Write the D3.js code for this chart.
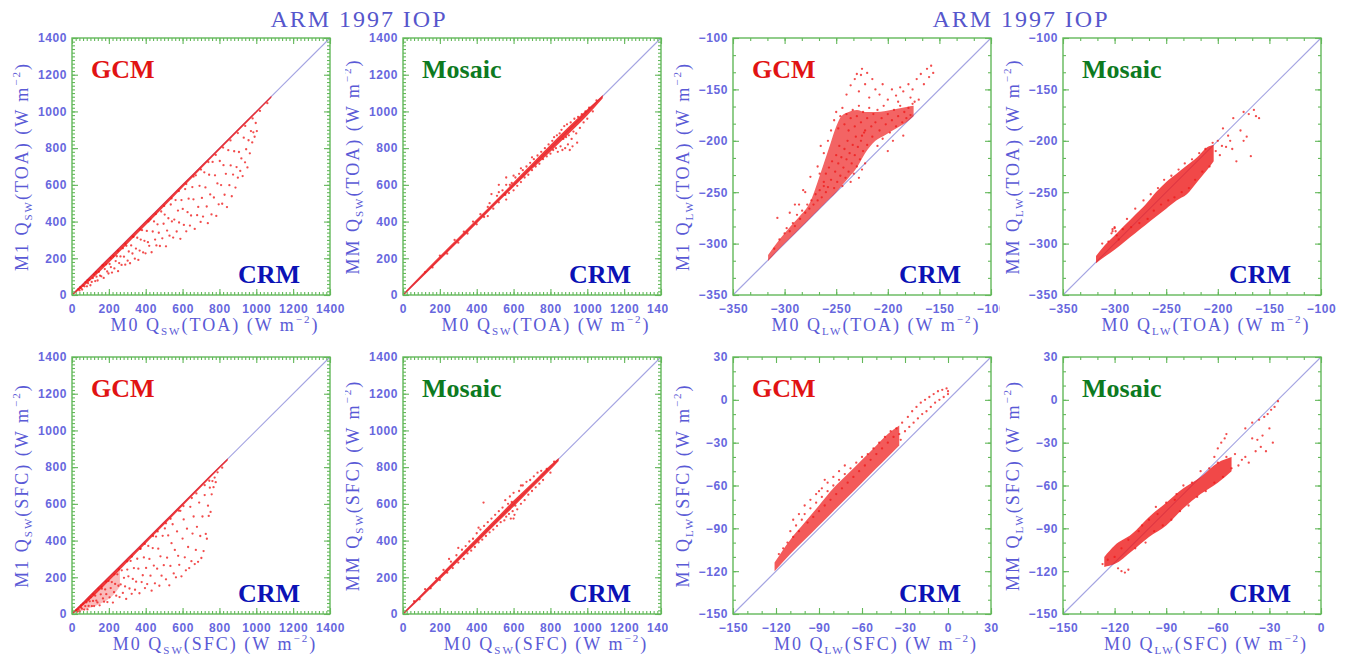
<!DOCTYPE html>
<html>
<head>
<meta charset="utf-8">
<script src="https://cdn.jsdelivr.net/npm/d3@7"></script>
<style>
  html, body { margin: 0; padding: 0; background: #ffffff; }
  svg { display: block; }
  .ax .tick text { font-family: "Liberation Sans", Arial, sans-serif; font-weight: bold; font-size: 12px; letter-spacing: 0.6px; fill: #6767de; }
  .lbl { font-family: "Liberation Serif", "Times New Roman", serif; font-size: 18px; fill: #5a5ad6; letter-spacing: 2px; }
  .title { font-family: "Liberation Serif", "Times New Roman", serif; font-size: 24px; fill: #5656cc; }
  .tag { font-family: "Liberation Serif", "Times New Roman", serif; font-weight: bold; font-size: 26px; }
</style>
</head>
<body>
<svg id="chart" width="1348" height="664"></svg>
<script>
// ---- axis tick values ----
const swTicks = [0, 200, 400, 600, 800, 1000, 1200, 1400];
const lwToaTicks = [-350, -300, -250, -200, -150, -100];
const lwSfcTicks = [-150, -120, -90, -60, -30, 0, 30];
const lwSfcTicksX = [-150, -120, -90, -60, -30, 0];

// ---- dense cores: [x, yLow, yHigh] ----
const gcmSwToaBand = [[0,-4,6],[60,45,64],[120,98,124],[200,176,204],[300,278,304],[400,380,404],[500,482,504],[600,585,604],[700,688,704],[800,790,804],[900,890,904],[1000,992,1004],[1082,1074,1086]];
const mosSwToaBand = [[0,-6,6],[100,92,110],[200,190,212],[300,290,312],[400,390,412],[500,490,512],[600,588,614],[700,686,716],[800,780,818],[900,878,918],[1000,978,1012],[1084,1072,1090]];
const gcmLwToaBand = [[-316,-317,-311],[-305,-305,-296],[-295,-295,-284],[-285,-285,-273],[-275,-275,-259],[-268,-268,-240],[-262,-262,-222],[-256,-256,-204],[-250,-250,-186],[-245,-244,-176],[-238,-236,-172],[-230,-226,-170],[-222,-212,-172],[-212,-200,-172],[-202,-194,-171],[-192,-188,-169],[-182,-182,-167],[-175,-176,-166]];
const mosLwToaBand = [[-318,-319,-312],[-310,-313,-302],[-300,-306,-292],[-290,-298,-282],[-280,-290,-272],[-270,-282,-262],[-260,-274,-250],[-250,-266,-240],[-240,-258,-232],[-230,-252,-224],[-220,-240,-216],[-210,-228,-206],[-204,-220,-204]];
const gcmSwSfcBand = [[0,-4,8],[60,46,66],[120,100,126],[200,180,205],[300,282,305],[400,384,405],[500,486,505],[600,588,605],[700,690,705],[800,792,805],[845,836,848]];
const gcmSwSfcHaze = [[20,4,20],[80,28,76],[150,55,142],[220,100,208],[260,150,250]];
const mosSwSfcBand = [[0,-6,6],[100,90,108],[200,188,210],[300,288,312],[400,386,414],[500,486,516],[600,584,618],[700,686,714],[800,786,812],[845,834,850]];
const gcmLwSfcBand = [[-121,-120,-114],[-110,-108,-98],[-100,-98,-86],[-90,-88,-74],[-80,-78,-62],[-70,-68,-52],[-60,-58,-42],[-50,-48,-32],[-42,-40,-24],[-34,-32,-18]];
const mosLwSfcBand = [[-126,-117,-110],[-120,-115,-102],[-110,-106,-94],[-100,-96,-82],[-90,-88,-72],[-80,-76,-62],[-70,-66,-54],[-60,-58,-44],[-52,-50,-40]];

// ---- scattered samples: [x, y] ----
const gcmSwToaPts = [[35,32],[41,25],[48,37],[55,30],[61,51],[68,47],[74,70],[81,47],[87,64],[94,83],[100,53],[107,71],[113,92],[120,112],[126,76],[133,100],[139,79],[146,126],[152,106],[159,102],[165,160],[172,93],[178,141],[185,167],[191,128],[198,117],[204,169],[211,152],[217,122],[224,211],[230,145],[237,185],[243,211],[250,130],[256,174],[263,210],[269,164],[276,254],[282,209],[289,165],
[295,268],[302,187],[308,237],[315,173],[321,270],[328,226],[334,317],[341,198],[347,253],[354,312],[360,191],[367,242],[373,302],[380,353],[386,232],[393,295],[399,227],[406,349],[412,288],[419,268],[425,412],[432,233],[438,346],[445,401],[451,302],[458,270],[464,385],[471,339],[477,267],[484,455],[490,309],[497,388],[503,438],[510,265],[516,351],[523,418],[529,323],[536,493],[542,401],[549,313],
[555,411],[562,517],[568,346],[575,460],[581,395],[588,306],[594,517],[601,469],[607,382],[614,577],[620,347],[627,451],[633,525],[640,378],[646,433],[653,588],[659,521],[666,360],[672,652],[679,435],[685,480],[692,595],[698,398],[705,529],[711,427],[718,668],[724,586],[731,482],[737,391],[744,655],[750,548],[757,439],[763,725],[770,531],[776,652],[783,431],[789,608],[796,494],[802,730],[809,599],[815,497],[822,707],[828,546],[835,660],[841,479],[848,789],[854,598],[861,706],[867,538],[874,656],[880,783],[887,585],[893,697],[900,639],[906,779],[913,676],[919,744],[926,648],[932,857],[939,723],[945,794],[952,695],[958,843],[965,772],[971,893],[978,831],[984,886],[991,862],[997,937],[1003,893],
[45,43],[130,124],[210,201],[290,279],[370,357],[455,441],[540,526],[620,604],[700,683],[780,763],[860,842],[940,921],[1020,1003],[85,81],[170,163],[250,241],[330,318],[415,401],[500,485],[580,566],[660,645],[740,724],[820,803],[900,882],[980,962],[1060,1045]];

const mosSwToaPts = [[120,125],[160,150],[200,215],[240,225],[280,300],[300,285],[330,345],[350,335],[380,400],[400,385],[420,440],[440,425],[460,480],[470,500],[490,470],[510,540],[520,505],[540,570],[555,545],[560,520],[580,600],[590,610],[600,570],[610,640],[620,595],[630,660],[640,615],[650,680],[660,640],[670,700],[680,655],[690,720],[700,680],[710,740],[720,700],[730,760],[740,715],[750,780],[760,740],[770,800],[780,755],[790,820],[800,770],[810,840],[815,790],[820,860],[830,800],[835,870],[840,780],[850,880],[855,810],[860,900],[865,790],[870,850],[875,920],[880,800],[885,860],[890,930],[895,820],[900,870],[905,790],[910,940],[915,850],[920,810],[925,890],[930,960],[940,880],[945,830],[950,970],[960,910],[970,985],[980,940],[990,1000],[1000,960],[1010,1020],[1030,1000],[1050,1060],[460,430],[520,560],[575,555],[640,690],[600,650],[560,600],[700,750],[520,600],[560,640],[480,550]];

const gcmLwToaPts = [[-310,-305],[-305,-296],[-300,-290],[-298,-285],[-295,-288],[-292,-280],[-290,-283],[-288,-272],[-285,-276],[-283,-268],[-280,-270],[-278,-262],[-276,-266],[-274,-258],[-272,-262],[-270,-252],[-268,-258],[-266,-248],[-264,-255],[-262,-244],[-260,-250],[-307,-275],[-295,-270],[-286,-262],[-280,-250],
[-262,-240],[-260,-232],[-258,-245],[-257,-226],[-255,-238],[-254,-220],[-252,-246],[-251,-230],[-250,-214],[-249,-240],[-248,-222],[-247,-205],[-246,-234],[-245,-216],[-244,-244],[-243,-226],[-242,-208],[-241,-236],[-240,-218],[-239,-200],[-238,-230],[-237,-212],[-236,-240],[-235,-222],[-234,-204],[-233,-232],[-232,-214],[-231,-196],[-230,-225],[-229,-206],[-228,-236],[-227,-218],[-226,-200],[-225,-228],[-224,-210],[-223,-192],[-222,-222],
[-252,-180],[-250,-172],[-248,-188],[-246,-176],[-244,-168],[-242,-184],[-240,-174],[-238,-190],[-236,-178],[-234,-170],[-232,-186],[-230,-176],[-228,-166],[-226,-182],[-224,-172],[-222,-190],[-220,-178],[-218,-168],[-216,-186],[-214,-174],[-212,-182],[-210,-170],[-208,-190],[-206,-178],[-204,-166],[-202,-184],[-200,-174],[-198,-192],[-196,-180],[-194,-170],[-192,-186],[-190,-176],[-188,-166],[-186,-182],[-184,-172],[-182,-178],[-180,-168],[-178,-175],[-176,-164],[-174,-162],[-185,-195],[-195,-200],[-205,-198],[-215,-196],[-225,-195],[-210,-205],[-200,-210],[-220,-204],
[-232,-140],[-230,-135],[-228,-152],[-225,-130],[-222,-145],[-218,-158],[-215,-140],[-212,-150],[-208,-155],[-205,-145],[-200,-160],[-196,-150],[-192,-156],[-188,-148],[-185,-152],[-180,-145],[-176,-150],[-172,-140],[-168,-135],[-165,-145],[-162,-130],[-160,-138],[-158,-127],[-156,-134],[-170,-160],[-178,-158],[-190,-162],[-240,-155],[-236,-146],[-226,-136],[-220,-134],
[-275,-235],[-282,-248],[-268,-225],[-265,-205],[-290,-262],[-258,-200],[-262,-212],[-255,-190],[-266,-232]];

const mosLwToaPts = [[-312,-300],[-306,-298],[-302,-288],[-300,-285],[-298,-292],[-296,-296],[-292,-286],[-288,-276],[-284,-284],[-280,-266],[-276,-280],[-272,-258],[-268,-276],[-265,-252],[-262,-268],[-258,-246],[-255,-262],[-252,-238],[-248,-258],[-245,-234],[-242,-255],[-238,-228],[-235,-250],[-232,-222],[-228,-246],[-225,-218],[-222,-238],[-218,-212],[-215,-230],[-212,-208],[-208,-225],[-205,-202],[-202,-210],[-200,-200],[-198,-214],[-196,-205],[-192,-206],[-190,-195],[-188,-200],[-185,-178],[-182,-220],[-178,-190],[-175,-172],[-172,-196],[-170,-174],[-168,-215],[-165,-170],[-163,-176],[-160,-178],[-195,-188],[-186,-208],[-175,-200],
[-303,-290],[-302,-286],[-300,-284],[-299,-288]];

const gcmSwSfcPts = [[24,21],[30,13],[36,24],[42,14],[48,36],[54,29],[60,56],[66,24],[72,43],[78,64],[84,25],[90,44],[96,69],[102,91],[108,43],[114,71],[120,43],[126,100],[132,73],[138,63],[144,138],[150,47],[156,107],[162,138],[168,85],[174,67],[180,134],[186,108],[192,65],[198,180],[204,91],[210,141],[216,174],[222,62],[228,119],[234,164],[240,100],[246,216],[252,154],[258,92],
[264,161],[270,238],[276,115],[282,197],[288,150],[294,82],[300,242],[306,205],[312,139],[318,289],[324,110],[330,191],[336,250],[342,132],[348,176],[354,301],[360,247],[366,113],[372,355],[378,174],[384,211],[390,308],[396,141],[402,251],[408,163],[414,371],[420,300],[426,209],[432,127],[438,359],[444,264],[450,167],[456,422],[462,247],[468,356],[474,154],[480,314],[486,209],[492,426],
[498,266],[504,466],[510,189],[516,307],[522,428],[528,156],[534,262],[540,386],[546,489],[552,221],[558,349],[564,200],[570,450],[576,317],[582,268],[588,562],[594,205],[600,411],[606,515],[612,309],[618,238],[624,465],[630,365],[636,250],[642,584],[648,288],[654,438],[660,531],[666,272],[672,349],[678,475],[684,284],[690,607],[696,425],[702,305],
[708,531],[714,343],[720,648],[726,436],[732,410],[738,590],[742,534],[748,688],[752,556],[758,652],[762,724],[768,691],[774,743],[780,718],
[50,47],[115,108],[185,176],[255,244],[325,313],[395,382],[465,450],[535,519],[605,588],[675,657],[745,726],[815,797],[90,80],[160,148],[230,216],[300,287],[370,356],[440,425],[510,494],[580,563],[650,632],[720,702],[790,772]];

const mosSwSfcPts = [[60,70],[90,80],[120,135],[150,140],[180,195],[200,185],[220,240],[240,225],[260,285],[270,250],[290,320],[300,280],[320,350],[330,300],[340,370],[350,330],[360,395],[370,345],[380,410],[390,365],[400,440],[410,390],[420,460],[430,405],[440,480],[450,425],[460,500],[470,445],[480,520],[490,460],[500,540],[510,480],[520,560],[530,500],[540,580],[550,510],[555,620],[560,530],[570,600],[575,545],[580,640],[585,520],[590,610],[595,560],[600,660],[605,540],[610,590],[620,570],[630,670],[640,600],[650,700],[660,620],[670,720],[680,650],[690,730],[700,670],[710,750],[720,690],[730,770],[740,710],[750,780],[760,730],[780,790],[800,770],[820,830],[640,700],[600,520],[437,607],[410,470],[300,360],[250,300]];

const gcmLwSfcPts = [[-118,-108],[-115,-104],[-112,-100],[-110,-92],[-108,-96],[-106,-88],[-104,-92],[-102,-84],[-100,-80],[-98,-86],[-96,-76],[-94,-82],[-92,-72],[-90,-78],[-88,-68],[-86,-74],[-84,-64],[-82,-70],[-80,-60],[-78,-66],[-76,-56],[-74,-62],[-72,-52],[-70,-58],[-68,-48],[-66,-54],[-64,-44],[-62,-50],[-60,-40],[-58,-46],[-56,-38],[-54,-42],[-52,-34],[-50,-38],[-48,-30],[-46,-34],[-44,-26],[-42,-30],[-40,-22],[-38,-26],[-36,-20],[-34,-24],[-33,-28],[-108,-84],[-104,-80],[-100,-74],[-96,-70],[-92,-66],[-88,-62],[-84,-58],[-80,-54],[-76,-50],[-72,-46],[-90,-64],[-86,-56],
[-30,-22],[-27,-19],[-24,-16],[-21,-13],[-18,-10],[-15,-8],[-12,-5],[-9,-2],[-6,0],[-3,2],[0,4],[-28,-12],[-25,-8],[-22,-5],[-19,-2],[-16,0],[-13,2],[-10,4],[-7,6],[-4,7],[-1,8],[0,6],[-32,-16]];

const mosLwSfcPts = [[-127,-115],[-124,-112],[-120,-110],[-118,-118],[-116,-120],[-114,-121],[-112,-119],[-116,-104],[-112,-98],[-108,-104],[-106,-92],[-102,-100],[-100,-84],[-97,-92],[-95,-80],[-92,-88],[-90,-72],[-87,-84],[-85,-70],[-82,-78],[-80,-60],[-77,-74],[-75,-58],[-72,-68],[-70,-50],[-67,-64],[-65,-48],[-62,-58],[-60,-44],[-57,-54],[-55,-40],[-52,-48],[-50,-38],[-48,-46],[-46,-42],[-44,-40],[-42,-44],[-38,-36],[-35,-33],[-55,-24],[-56,-27],[-58,-30],[-60,-34],[-62,-40],[-40,-27],[-37,-28],[-34,-25],[-25,-1],[-27,-5],[-29,-7],[-31,-10],[-33,-12],[-36,-14],[-40,-16],[-44,-20],[-30,-20],[-28,-30],[-32,-36],[-96,-75],[-104,-88],[-84,-66]];

// ---- panel descriptions ----
const panels = [
  { col: 0, row: 0, xDomain: [0, 1400], yDomain: [0, 1400], xTicks: swTicks, yTicks: swTicks, xMinor: 20, yMinor: 20,
    yName: "M1", sub: "SW", loc: "(TOA)", model: "GCM", pts: gcmSwToaPts, core: gcmSwToaBand, coreOpacity: 0.85, haze: null },
  { col: 1, row: 0, xDomain: [0, 1400], yDomain: [0, 1400], xTicks: swTicks, yTicks: swTicks, xMinor: 20, yMinor: 20,
    yName: "MM", sub: "SW", loc: "(TOA)", model: "Mosaic", pts: mosSwToaPts, core: mosSwToaBand, coreOpacity: 0.85, haze: null },
  { col: 2, row: 0, xDomain: [-350, -100], yDomain: [-350, -100], xTicks: lwToaTicks, yTicks: lwToaTicks, xMinor: 50 / 3, yMinor: 50 / 3,
    yName: "M1", sub: "LW", loc: "(TOA)", model: "GCM", pts: gcmLwToaPts, core: gcmLwToaBand, coreOpacity: 0.68, haze: null },
  { col: 3, row: 0, xDomain: [-350, -100], yDomain: [-350, -100], xTicks: lwToaTicks, yTicks: lwToaTicks, xMinor: 50 / 3, yMinor: 50 / 3,
    yName: "MM", sub: "LW", loc: "(TOA)", model: "Mosaic", pts: mosLwToaPts, core: mosLwToaBand, coreOpacity: 0.8, haze: null },
  { col: 0, row: 1, xDomain: [0, 1400], yDomain: [0, 1400], xTicks: swTicks, yTicks: swTicks, xMinor: 20, yMinor: 20,
    yName: "M1", sub: "SW", loc: "(SFC)", model: "GCM", pts: gcmSwSfcPts, core: gcmSwSfcBand, coreOpacity: 0.85, haze: gcmSwSfcHaze },
  { col: 1, row: 1, xDomain: [0, 1400], yDomain: [0, 1400], xTicks: swTicks, yTicks: swTicks, xMinor: 20, yMinor: 20,
    yName: "MM", sub: "SW", loc: "(SFC)", model: "Mosaic", pts: mosSwSfcPts, core: mosSwSfcBand, coreOpacity: 0.85, haze: null },
  { col: 2, row: 1, xDomain: [-150, 30], yDomain: [-150, 30], xTicks: lwSfcTicks, yTicks: lwSfcTicks, xMinor: 10, yMinor: 10,
    yName: "M1", sub: "LW", loc: "(SFC)", model: "GCM", pts: gcmLwSfcPts, core: gcmLwSfcBand, coreOpacity: 0.72, haze: null },
  { col: 3, row: 1, xDomain: [-150, 0], yDomain: [-150, 30], xTicks: lwSfcTicksX, yTicks: lwSfcTicks, xMinor: 10, yMinor: 10,
    yName: "MM", sub: "LW", loc: "(SFC)", model: "Mosaic", pts: mosLwSfcPts, core: mosLwSfcBand, coreOpacity: 0.8, haze: null }
];

const modelColor = { GCM: "#e11313", Mosaic: "#0d7a1f" };
const refName = "CRM";
const titleText = "ARM 1997 IOP";

// ---- layout ----
const W = 258, H = 257;
const colLeft = [72, 403, 733, 1063];
const rowTop = [38, 357];
const colClip = [[0, 345], [345, 668], [668, 1000], [1000, 1348]];
const frameGreen = "#63b85a";
const dotRed = "#ee1a1a";

const svg = d3.select("#chart");
const defs = svg.append("defs");

// Titles over each pair of columns
[358, 1020].forEach(cx => {
  svg.append("text").attr("class", "title")
    .attr("x", cx).attr("y", 27).attr("text-anchor", "middle")
    .attr("textLength", 175).attr("lengthAdjust", "spacing")
    .text(titleText);
});

function quantityLabel(sel, prefix, sub, loc) {
  sel.append("tspan").text(prefix + " Q");
  sel.append("tspan").attr("font-size", 11).attr("dy", 4).text(sub);
  sel.append("tspan").attr("dy", -4).text(loc + " (W m");
  sel.append("tspan").attr("font-size", 11).attr("dy", -8).text("\u22122");
  sel.append("tspan").attr("dy", 8).text(")");
}

panels.forEach((p, i) => {
  const left = colLeft[p.col], top = rowTop[p.row];
  const clipId = "colclip" + i;
  defs.append("clipPath").attr("id", clipId).append("rect")
    .attr("x", colClip[p.col][0]).attr("y", top - 20)
    .attr("width", colClip[p.col][1] - colClip[p.col][0]).attr("height", H + 70);

  const outer = svg.append("g").attr("clip-path", `url(#${clipId})`);
  const g = outer.append("g").attr("transform", `translate(${left},${top})`);

  const x = d3.scaleLinear().domain(p.xDomain).range([0, W]);
  const y = d3.scaleLinear().domain(p.yDomain).range([H, 0]);

  // one-to-one reference line across the frame
  g.append("line")
    .attr("x1", x(p.xDomain[0])).attr("y1", y(p.yDomain[0]))
    .attr("x2", x(p.xDomain[1])).attr("y2", y(p.yDomain[1]))
    .attr("stroke", "#a4a4e2").attr("stroke-width", 1.1);

  const area = d3.area().x(d => x(d[0])).y0(d => y(d[1])).y1(d => y(d[2])).curve(d3.curveMonotoneX);
  if (p.haze) {
    g.append("path").datum(p.haze).attr("d", area).attr("fill", dotRed).attr("opacity", 0.3);
  }
  g.append("path").datum(p.core).attr("d", area).attr("fill", dotRed).attr("opacity", p.coreOpacity);

  g.append("g").selectAll("circle").data(p.pts).join("circle")
    .attr("cx", d => x(d[0])).attr("cy", d => y(d[1]))
    .attr("r", 1.15).attr("fill", dotRed).attr("opacity", 0.78);

  // frame
  g.append("rect").attr("width", W).attr("height", H)
    .attr("fill", "none").attr("stroke", frameGreen).attr("stroke-width", 1.4);

  const xMinorVals = d3.range(p.xDomain[0], p.xDomain[1] + 1e-6, p.xMinor);
  const yMinorVals = d3.range(p.yDomain[0], p.yDomain[1] + 1e-6, p.yMinor);
  const fmt = d3.format("d");

  function axis(gen, vals, size, labels, transform) {
    const a = gen.tickValues(vals).tickSize(size).tickPadding(5)
      .tickFormat(labels ? fmt : "");
    const ag = g.append("g").attr("class", "ax").attr("transform", transform).call(a);
    ag.attr("font-size", null).attr("font-family", null).style("color", frameGreen);
    ag.select(".domain").remove();
    ag.selectAll(".tick line").attr("stroke-width", 1.1);
    return ag;
  }
  // minor ticks on all four sides
  axis(d3.axisBottom(x), xMinorVals, -3, false, `translate(0,${H})`);
  axis(d3.axisTop(x), xMinorVals, -3, false, "translate(0,0)");
  axis(d3.axisLeft(y), yMinorVals, -3, false, "translate(0,0)");
  axis(d3.axisRight(y), yMinorVals, -3, false, `translate(${W},0)`);
  // major ticks with labels on the bottom and left
  const bx = axis(d3.axisBottom(x), p.xTicks, -6, true, `translate(0,${H})`);
  bx.selectAll(".tick text").attr("y", 9);
  axis(d3.axisTop(x), p.xTicks, -6, false, "translate(0,0)");
  const ly = axis(d3.axisLeft(y), p.yTicks, -6, true, "translate(0,0)");
  ly.selectAll(".tick text").attr("x", -5);
  axis(d3.axisRight(y), p.yTicks, -6, false, `translate(${W},0)`);

  // axis titles
  const xl = g.append("text").attr("class", "lbl")
    .attr("x", W / 2 + 14).attr("y", H + 36).attr("text-anchor", "middle");
  quantityLabel(xl, "M0", p.sub, p.loc);
  const yl = g.append("text").attr("class", "lbl")
    .attr("transform", `translate(-44,${H / 2}) rotate(-90)`).attr("text-anchor", "middle");
  quantityLabel(yl, p.yName, p.sub, p.loc);

  // model / reference tags
  g.append("text").attr("class", "tag").attr("x", 19).attr("y", 40)
    .attr("fill", modelColor[p.model]).text(p.model);
  g.append("text").attr("class", "tag").attr("x", W - 30).attr("y", H - 12)
    .attr("text-anchor", "end").attr("fill", "#0b12b5").text(refName);
});
</script>
</body>
</html>
